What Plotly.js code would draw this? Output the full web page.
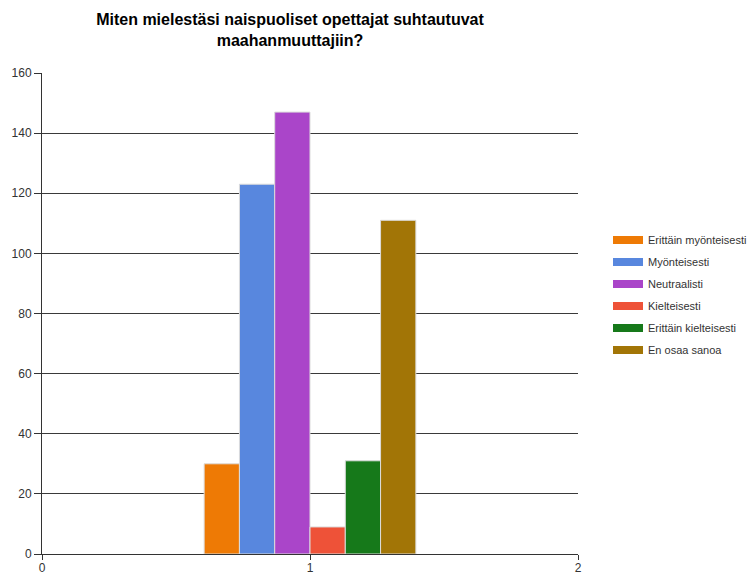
<!DOCTYPE html>
<html>
<head>
<meta charset="utf-8">
<script src="https://cdn.plot.ly/plotly-3.0.1.min.js"></script>
<style>html,body{margin:0;padding:0;background:#fff;}#chart{width:752px;height:574px;}</style>
</head>
<body>
<div id="chart"></div>
<script>
const categories = [1];
const seriesNames = ["Erittäin myönteisesti", "Myönteisesti", "Neutraalisti", "Kielteisesti", "Erittäin kielteisesti", "En osaa sanoa"];
const seriesValues = [[30], [123], [147], [9], [31], [111]];
const seriesColors = ["#EE7A05", "#5887DE", "#AA45C9", "#EE5238", "#16791A", "#A27506"];
const xTicks = [0, 1, 2];
const yTicks = [0, 20, 40, 60, 80, 100, 120, 140, 160];

const traces = [];
seriesNames.forEach((name, i) => {
  traces.push({
    type: 'bar', x: categories, y: seriesValues[i], name: name,
    legendgroup: name, showlegend: false,
    marker: {color: seriesColors[i], line: {color: '#dcdcdc', width: 1}},
    hoverinfo: 'name+y'
  });
});
seriesNames.forEach((name, i) => {
  traces.push({
    type: 'scatter', mode: 'lines', x: [null], y: [null], name: name,
    legendgroup: name, showlegend: true,
    line: {color: seriesColors[i], width: 8}, hoverinfo: 'skip'
  });
});

const layout = {
  width: 752, height: 574,
  margin: {l: 42, r: 174, t: 73, b: 20, pad: 0},
  paper_bgcolor: '#fff', plot_bgcolor: '#fff',
  font: {family: 'Arial, "Liberation Sans", sans-serif', size: 12, color: '#333'},
  title: {
    text: 'Miten mielestäsi naispuoliset opettajat suhtautuvat<br>maahanmuuttajiin?',
    font: {family: 'Arial, "Liberation Sans", sans-serif', size: 16, color: '#000', weight: 'bold'},
    xref: 'container', x: 290/752, xanchor: 'center',
    yref: 'container', y: 1 - 25/574, yanchor: 'top'
  },
  barmode: 'group', bargap: 0.21, bargroupgap: 0,
  xaxis: {
    range: [0, 2], tickvals: xTicks, ticktext: xTicks.map(String),
    showgrid: false, zeroline: false, showline: true, linecolor: '#333', linewidth: 1,
    ticks: 'outside', ticklen: 5, tickcolor: '#333', ticklabelstandoff: -2,
    tickfont: {size: 12, color: '#333'}
  },
  yaxis: {
    range: [0, 160], tickvals: yTicks, ticktext: yTicks.map(String),
    showgrid: true, gridcolor: '#3a3a3a', gridwidth: 1, zeroline: false,
    showline: true, linecolor: '#333', linewidth: 1,
    ticks: 'outside', ticklen: 7, tickcolor: '#333', tickfont: {size: 12, color: '#333'}
  },
  showlegend: true,
  legend: {
    xref: 'container', yref: 'container', x: 608/752, y: 1 - 295/574,
    xanchor: 'left', yanchor: 'middle',
    font: {size: 11, color: '#333'}, itemwidth: 30,
    traceorder: 'grouped', tracegroupgap: 3, bgcolor: 'rgba(0,0,0,0)'
  }
};

Plotly.newPlot('chart', traces, layout, {displayModeBar: false, staticPlot: true});
</script>
</body>
</html>
